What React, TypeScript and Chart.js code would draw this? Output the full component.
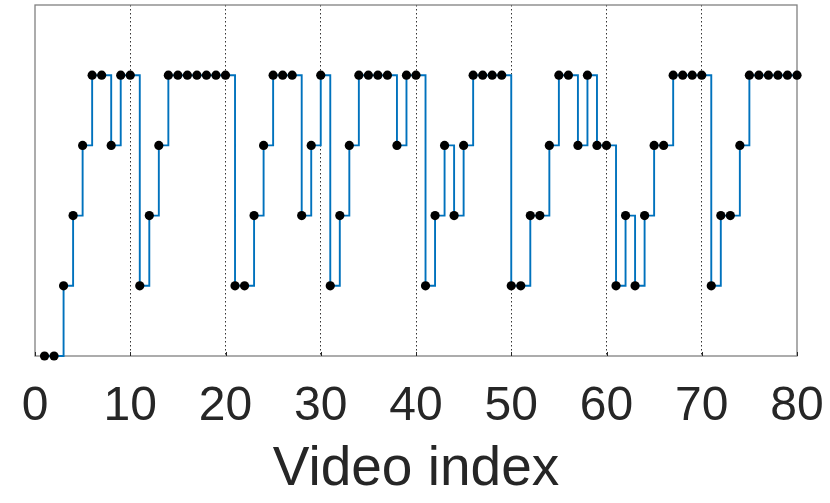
import React, { useEffect, useRef } from "react";
import { Chart, registerables } from "chart.js";

Chart.register(...registerables);

const videoIndex: number[] = Array.from({ length: 80 }, (_, i) => i + 1);
const levels: number[] = [
  0, 0, 1, 2, 3, 4, 4, 3, 4, 4,
  1, 2, 3, 4, 4, 4, 4, 4, 4, 4,
  1, 1, 2, 3, 4, 4, 4, 2, 3, 4,
  1, 2, 3, 4, 4, 4, 4, 3, 4, 4,
  1, 2, 3, 2, 3, 4, 4, 4, 4, 1,
  1, 2, 2, 3, 4, 4, 3, 4, 3, 3,
  1, 2, 1, 2, 3, 3, 4, 4, 4, 4,
  1, 2, 2, 3, 4, 4, 4, 4, 4, 4,
];
const xTicks: number[] = [0, 10, 20, 30, 40, 50, 60, 70, 80];
const xLabel = "Video index";

const boxPlugin = {
  id: "boxPlugin",
  afterDatasetsDraw(chart: any) {
    const { ctx, chartArea, scales } = chart;
    const x = scales.x;
    ctx.save();
    ctx.strokeStyle = "#262626";
    ctx.lineWidth = 1;
    xTicks.forEach((t) => {
      const px = Math.round(x.getPixelForValue(t)) + 0.5;
      ctx.beginPath();
      ctx.moveTo(px, chartArea.bottom);
      ctx.lineTo(px, chartArea.bottom - 4);
      ctx.stroke();
    });
    ctx.restore();
  },
  beforeDatasetsDraw(chart: any) {
    const { ctx, chartArea } = chart;
    ctx.save();
    ctx.strokeStyle = "#808080";
    ctx.lineWidth = 1.3;
    ctx.strokeRect(chartArea.left, chartArea.top, chartArea.right - chartArea.left, chartArea.bottom - chartArea.top);
    ctx.restore();
  },
};

export default function App() {
  const ref = useRef<HTMLCanvasElement | null>(null);
  useEffect(() => {
    if (!ref.current) return;
    const chart = new Chart(ref.current, {
      type: "line",
      data: {
        datasets: [
          {
            data: videoIndex.map((x, i) => ({ x, y: levels[i] })),
            stepped: "before",
            borderColor: "#0072BD",
            borderWidth: 1.9,
            pointBackgroundColor: "#000000",
            pointBorderColor: "#000000",
            pointRadius: 4.6,
            pointBorderWidth: 0,
            fill: false,
            clip: false as any,
          },
        ],
      },
      options: {
        animation: false,
        responsive: true,
        maintainAspectRatio: false,
        layout: { padding: { left: 35, right: 33, top: 5, bottom: 0 } },
        plugins: { legend: { display: false }, tooltip: { enabled: false } },
        scales: {
          x: {
            type: "linear",
            min: 0,
            max: 80,
            afterBuildTicks: (scale: any) => {
              scale.ticks = xTicks.map((v) => ({ value: v }));
            },
            afterFit: (scale: any) => {
              scale.height = 147;
              scale.paddingLeft = 0;
              scale.paddingRight = 0;
            },
            ticks: {
              font: { family: "Liberation Sans", size: 48 },
              color: "#262626",
              padding: 22,
              maxRotation: 0,
              autoSkip: false,
            },
            grid: {
              drawTicks: false,
              color: (c: any) =>
                c.tick && (c.tick.value === 0 || c.tick.value === 80) ? "rgba(0,0,0,0)" : "#000000",
              lineWidth: 0.8,
            },
            border: { display: false, dash: [1.5, 2.5] },
            title: {
              display: true,
              text: xLabel,
              font: { family: "Liberation Sans", size: 55 },
              color: "#262626",
              padding: { top: 0, bottom: 0 },
            },
          },
          y: {
            display: false,
            min: 0,
            max: 5,
          },
        },
      },
      plugins: [boxPlugin],
    });
    return () => chart.destroy();
  }, []);
  return (
    <div style={{ position: "fixed", left: 0, top: 0, width: 830, height: 503, background: "#fff" }}>
      <canvas ref={ref} />
    </div>
  );
}
